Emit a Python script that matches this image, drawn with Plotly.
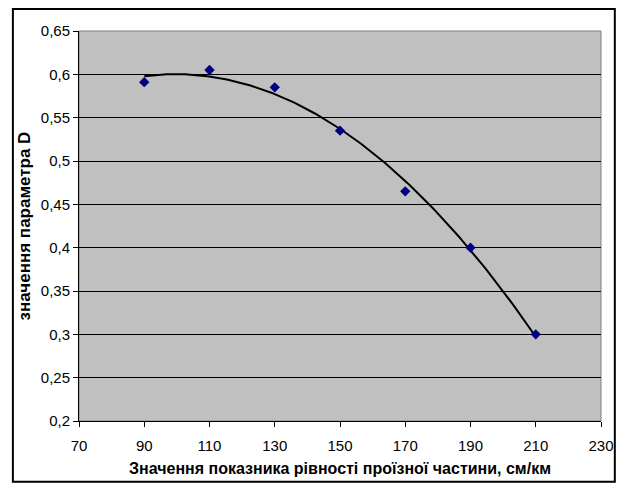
import numpy as np
import plotly.graph_objects as go

x_vals = [90, 110, 130, 150, 170, 190, 210]
d_vals = [0.591, 0.605, 0.585, 0.535, 0.465, 0.400, 0.300]
x_ticks = [70, 90, 110, 130, 150, 170, 190, 210, 230]
y_ticks = [0.2, 0.25, 0.3, 0.35, 0.4, 0.45, 0.5, 0.55, 0.6, 0.65]
y_tick_labels = ["0,2", "0,25", "0,3", "0,35", "0,4", "0,45", "0,5", "0,55", "0,6", "0,65"]

# Polynomial (2nd order) trendline fitted to the data, as in the original
coef = np.polyfit(x_vals, d_vals, 2)
xt = np.linspace(min(x_vals), max(x_vals), 200)
yt = np.polyval(coef, xt)

fig = go.Figure()
fig.add_trace(go.Scatter(x=xt, y=yt, mode="lines",
                         line=dict(color="black", width=2), showlegend=False,
                         hoverinfo="skip"))
fig.add_trace(go.Scatter(x=x_vals, y=d_vals, mode="markers",
                         marker=dict(symbol="diamond", size=8, color="#000080"),
                         showlegend=False))

font_family = "Liberation Sans, Arial, sans-serif"
W, H = 618, 478
L, R, T, B = 71, 18, 23, 63
pw, ph = W - L - R, H - T - B

def px(xf):
    return (xf - L) / pw

def py(yf):
    return (H - B - yf) / ph

fig.update_layout(
    width=W, height=H,
    margin=dict(l=L, r=R, t=T, b=B),
    paper_bgcolor="white",
    plot_bgcolor="#C0C0C0",
    font=dict(family=font_family, size=15, color="black"),
    xaxis=dict(range=[70, 230], tickvals=x_ticks, ticks="outside", ticklen=5,
               ticklabelstandoff=6,
               tickcolor="black", showline=True, linecolor="black", linewidth=1,
               showgrid=False, zeroline=False,
               title=dict(text="<b>Значення показника рівності проїзної частини, см/км</b>",
                          font=dict(size=16), standoff=9)),
    yaxis=dict(range=[0.2, 0.65], tickvals=y_ticks, ticktext=y_tick_labels,
               ticks="outside", ticklen=5, tickcolor="black",
               showline=True, linecolor="black", linewidth=1,
               showgrid=True, gridcolor="black", gridwidth=1, zeroline=False,
               title=dict(text="<b>значення параметра D</b>", font=dict(size=17), standoff=5)),
    shapes=[
        dict(type="rect", xref="paper", yref="paper", x0=0, x1=1, y0=0, y1=1,
             line=dict(color="#808080", width=1), layer="below"),
        dict(type="rect", xref="paper", yref="paper",
             x0=px(4), x1=px(614), y0=py(476), y1=py(1),
             line=dict(color="black", width=2), fillcolor="rgba(0,0,0,0)"),
    ],
)
fig.write_html("out.html")
